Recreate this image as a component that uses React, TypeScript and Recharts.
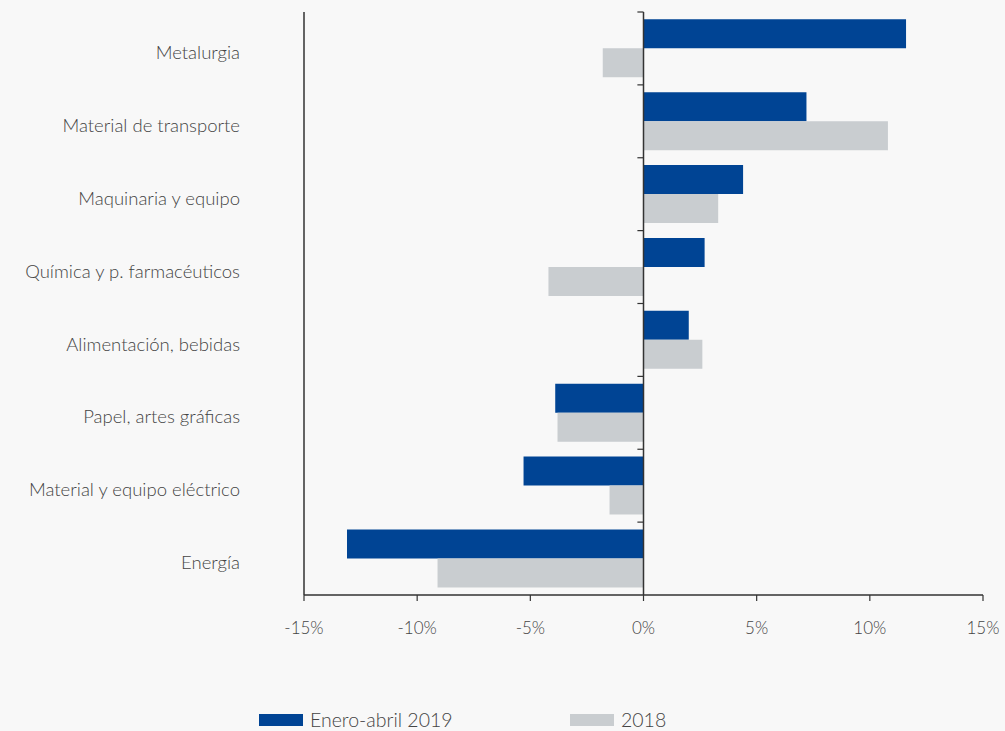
import React from 'react';
import { BarChart, Bar, XAxis, YAxis, ReferenceLine, Legend } from 'recharts';

const categories = [
  'Metalurgia',
  'Material de transporte',
  'Maquinaria y equipo',
  'Química y p. farmacéuticos',
  'Alimentación, bebidas',
  'Papel, artes gráficas',
  'Material y equipo eléctrico',
  'Energía',
];
const values2019 = [11.6, 7.2, 4.4, 2.7, 2.0, -3.9, -5.3, -13.1];
const values2018 = [-1.8, 10.8, 3.3, -4.2, 2.6, -3.8, -1.5, -9.1];
const xTicks = [-15, -10, -5, 0, 5, 10, 15];

const BLUE = '#004494';
const GREY = '#c9cdd0';
const AXIS = '#333333';
const TEXT = '#444444';
const FONT = 'Lato, "Open Sans", sans-serif';

const data = categories.map((name, i) => ({
  name,
  y2019: values2019[i],
  y2018: values2018[i],
}));

const LegendContent: React.FC<any> = () => (
  <div style={{ display: 'flex', fontFamily: FONT, fontWeight: 300, fontSize: 19.5, color: TEXT }}>
    <div style={{ display: 'flex', alignItems: 'center', width: 311 }}>
      <span style={{ display: 'inline-block', width: 44, height: 12, background: BLUE, marginRight: 7 }} />
      Enero-abril 2019
    </div>
    <div style={{ display: 'flex', alignItems: 'center' }}>
      <span style={{ display: 'inline-block', width: 44, height: 12, background: GREY, marginRight: 7 }} />
      2018
    </div>
  </div>
);

export default function App() {
  return (
    <div style={{ position: 'absolute', left: 0, top: 0, width: 1005, height: 731, background: '#f8f8f8' }}>
      <BarChart
        width={1005}
        height={731}
        data={data}
        layout="vertical"
        margin={{ top: 12, right: 22, left: 0, bottom: 53 }}
        barCategoryGap="10%"
        barGap={0}
      >
        <XAxis
          type="number"
          domain={[-15, 15]}
          ticks={xTicks}
          tickFormatter={(v) => `${v}%`}
          axisLine={{ stroke: AXIS, strokeWidth: 1.5 }}
          tickLine={{ stroke: AXIS, strokeWidth: 1.2 }}
          tickSize={6}
          tickMargin={21}
          height={60}
          tick={{ fill: TEXT, fontSize: 17, fontFamily: FONT, fontWeight: 300 }}
        />
        <YAxis
          type="category"
          dataKey="name"
          width={304}
          axisLine={{ stroke: AXIS, strokeWidth: 1.5 }}
          tickLine={false}
          tickSize={0}
          tickMargin={64}
          tick={{ fill: TEXT, fontSize: 18.5, fontFamily: FONT, fontWeight: 300, dy: 4 }}
        />
        <Bar dataKey="y2019" name="Enero-abril 2019" fill={BLUE} isAnimationActive={false} />
        <Bar dataKey="y2018" name="2018" fill={GREY} isAnimationActive={false} />
        <ReferenceLine x={0} stroke={AXIS} strokeWidth={1.5} />
        {categories.map((c) => (
          <ReferenceLine
            key={c}
            segment={[{ x: -0.27, y: c }, { x: 0, y: c }]}
            position="start"
            stroke={AXIS}
            strokeWidth={1.2}
          />
        ))}
        <Legend
          content={<LegendContent />}
          verticalAlign="bottom"
          wrapperStyle={{ left: 259, bottom: 0, width: 500 }}
        />
      </BarChart>
    </div>
  );
}
